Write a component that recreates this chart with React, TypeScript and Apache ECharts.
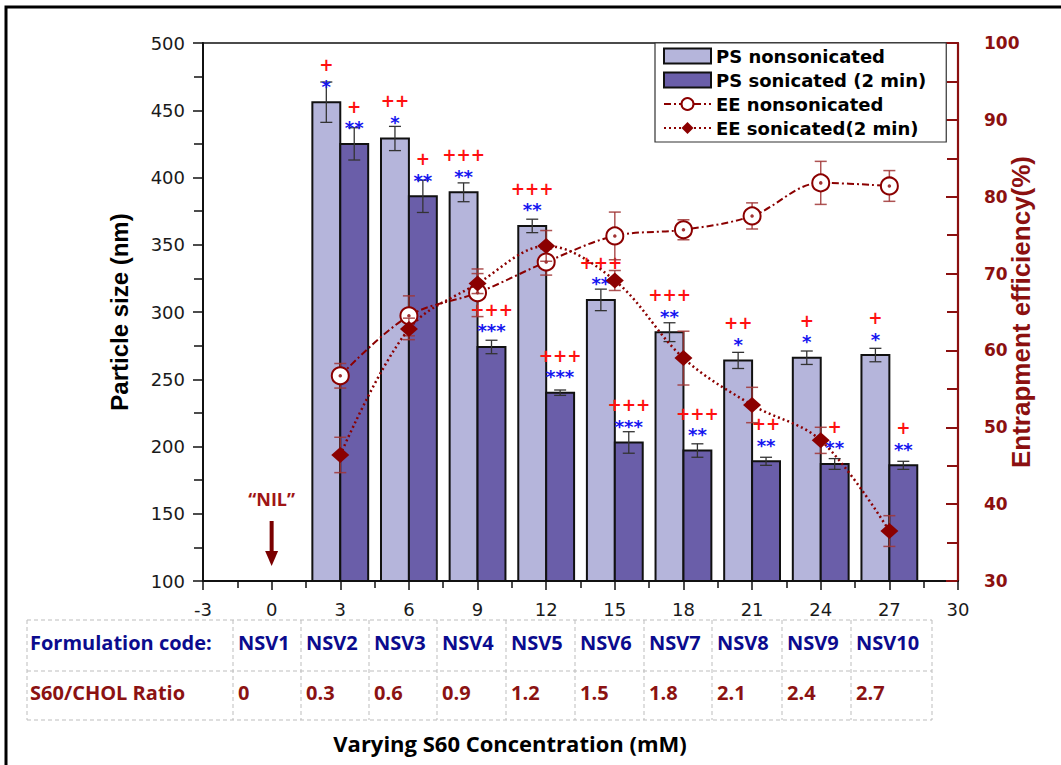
import React, { useEffect, useRef } from "react";
import * as echarts from "echarts";

// S60 concentration (mM) for formulations NSV2..NSV10
const concentration = [3, 6, 9, 12, 15, 18, 21, 24, 27];

// Particle size (nm), mean and SD
const psNonsonicated = [456, 429, 389, 364, 309, 285, 264, 266, 268];
const psNonsonicatedSd = [15, 9, 7, 5, 8, 7, 6, 5, 5];
const psSonicated = [425, 386, 274, 240, 203, 197, 189, 187, 186];
const psSonicatedSd = [12, 12, 5, 2, 8, 5, 3, 4, 3];

// Entrapment efficiency (%), mean and SD
const eeNonsonicated = [56.7, 64.5, 67.5, 71.5, 74.9, 75.7, 77.5, 81.8, 81.4];
const eeNonsonicatedSd = [1.6, 2.6, 3.1, 1.7, 3.1, 1.3, 1.7, 2.8, 2.0];
const eeSonicated = [46.4, 62.8, 68.7, 73.6, 69.1, 59.0, 52.9, 48.3, 36.5];
const eeSonicatedSd = [2.3, 1.4, 1.3, 2.0, 1.3, 3.5, 2.3, 1.7, 2.0];

// Significance marks above the bars
const nonsonicatedStars = ["*", "*", "**", "**", "**", "**", "*", "*", "*"];
const nonsonicatedPlus = ["+", "++", "+++", "+++", "+++", "+++", "++", "+", "+"];
const sonicatedStars = ["**", "**", "***", "***", "***", "**", "**", "**", "**"];
const sonicatedPlus = ["+", "+", "+++", "+++", "+++", "+++", "++", "+", "+"];

// Table under the x axis
const formulationCodes = ["NSV1", "NSV2", "NSV3", "NSV4", "NSV5", "NSV6", "NSV7", "NSV8", "NSV9", "NSV10"];
const cholRatios = ["0", "0.3", "0.6", "0.9", "1.2", "1.5", "1.8", "2.1", "2.4", "2.7"];

const PS_MIN = 100;
const PS_MAX = 500;
const EE_MIN = 30;
const EE_MAX = 100;
const BAR_W = 1.22; // bar width in x-axis units

const DARK_RED = "#8B0000";
const AXIS_RED = "#8B1010";
const LIGHT_BAR = "#B5B5DB";
const DARK_BAR = "#6A5EA9";
const SANS = "DejaVu Sans";
const TABLE_FONT = "Open Sans";

// layout of the table and frame (pixels)
const GRID = { left: 203, top: 43, right: 958, bottom: 581 };
const tableCols = [27, 233, 301, 369, 437, 506, 575, 644, 712, 782, 851, 932];
const tableRowLines = [620, 671, 720];

function barSeries(
  name: string,
  values: number[],
  sds: number[],
  stars: string[],
  pluses: string[],
  color: string,
  o0: number,
  o1: number
) {
  return {
    type: "custom",
    name,
    xAxisIndex: 0,
    yAxisIndex: 0,
    z: 2,
    itemStyle: { color, borderColor: "#111", borderWidth: 1.5 },
    encode: { x: 0, y: 1 },
    data: concentration.map((c, i) => [c, values[i], sds[i]]),
    renderItem: (params: any, api: any) => {
      const i = params.dataIndex;
      const x = api.value(0);
      const v = api.value(1);
      const sd = api.value(2);
      const tl = api.coord([x + o0, v]);
      const br = api.coord([x + o1, PS_MIN]);
      const cx = (tl[0] + br[0]) / 2;
      const yHi = api.coord([x, v + sd])[1];
      const yLo = api.coord([x, v - sd])[1];
      const cap = 6;
      const errStyle = { stroke: "#333", lineWidth: 1.3 };
      return {
        type: "group",
        children: [
          {
            type: "rect",
            shape: { x: tl[0], y: tl[1], width: br[0] - tl[0], height: br[1] - tl[1] },
            style: { fill: color, stroke: "#111", lineWidth: 2 },
          },
          { type: "line", shape: { x1: cx, y1: yHi, x2: cx, y2: yLo }, style: errStyle },
          { type: "line", shape: { x1: cx - cap, y1: yHi, x2: cx + cap, y2: yHi }, style: errStyle },
          { type: "line", shape: { x1: cx - cap, y1: yLo, x2: cx + cap, y2: yLo }, style: errStyle },
          {
            type: "text",
            x: cx,
            y: tl[1] - 16,
            z2: 10,
            style: {
              text: stars[i],
              fill: "#1515F0",
              fontFamily: SANS,
              fontWeight: "bold",
              fontSize: 18,
              align: "center",
              verticalAlign: "middle",
            },
          },
          {
            type: "text",
            x: cx,
            y: tl[1] - 37,
            z2: 10,
            style: {
              text: pluses[i],
              fill: "#FF1010",
              fontFamily: SANS,
              fontWeight: "bold",
              fontSize: 17,
              align: "center",
              verticalAlign: "middle",
            },
          },
        ],
      };
    },
  };
}

function errorSeries(name: string, values: number[], sds: number[], z: number) {
  return {
    type: "custom",
    name,
    xAxisIndex: 0,
    yAxisIndex: 1,
    z,
    silent: true,
    encode: { x: 0, y: 1 },
    data: concentration.map((c, i) => [c, values[i], sds[i]]),
    renderItem: (params: any, api: any) => {
      const x = api.value(0);
      const v = api.value(1);
      const sd = api.value(2);
      const hi = api.coord([x, v + sd]);
      const lo = api.coord([x, v - sd]);
      const cap = 6;
      const st = { stroke: "#A03535", lineWidth: 1.5, opacity: 0.85 };
      return {
        type: "group",
        children: [
          { type: "line", shape: { x1: hi[0], y1: hi[1], x2: lo[0], y2: lo[1] }, style: st },
          { type: "line", shape: { x1: hi[0] - cap, y1: hi[1], x2: hi[0] + cap, y2: hi[1] }, style: st },
          { type: "line", shape: { x1: lo[0] - cap, y1: lo[1], x2: lo[0] + cap, y2: lo[1] }, style: st },
        ],
      };
    },
  };
}

function tableGraphics() {
  const els: any[] = [];
  const dash = { stroke: "#BDBDBD", lineWidth: 1, lineDash: [4, 3] };
  tableRowLines.forEach((y) =>
    els.push({
      type: "line",
      shape: { x1: tableCols[0], y1: y, x2: tableCols[tableCols.length - 1], y2: y },
      style: dash,
    })
  );
  tableCols.forEach((x) =>
    els.push({
      type: "line",
      shape: { x1: x, y1: tableRowLines[0], x2: x, y2: tableRowLines[2] },
      style: dash,
    })
  );
  const rowY = [642, 692];
  const blue = "#0B0B8E";
  const red = "#8B1212";
  const font = { fontFamily: TABLE_FONT, fontWeight: "bold", fontSize: 20, verticalAlign: "middle", align: "left" };
  els.push({ type: "text", x: 30, y: rowY[0], style: { text: "Formulation code:", fill: blue, ...font } });
  els.push({ type: "text", x: 30, y: rowY[1], style: { text: "S60/CHOL Ratio", fill: red, ...font } });
  formulationCodes.forEach((code, i) => {
    els.push({ type: "text", x: tableCols[i + 1] + 5, y: rowY[0], style: { text: code, fill: blue, ...font } });
    els.push({ type: "text", x: tableCols[i + 1] + 5, y: rowY[1], style: { text: cholRatios[i], fill: red, ...font } });
  });
  return els;
}

export default function App() {
  const ref = useRef<HTMLDivElement>(null);

  useEffect(() => {
    document.body.style.margin = "0";
    if (!ref.current) return;
    const chart = echarts.init(ref.current, null, { renderer: "svg" });

    const zeroX = GRID.left + ((0 - -3) / 33) * (GRID.right - GRID.left);

    const option: any = {
      animation: false,
      backgroundColor: "#fff",
      grid: {
        left: GRID.left,
        top: GRID.top,
        right: 1061 - GRID.right,
        bottom: 765 - GRID.bottom,
        show: true,
        borderColor: "#111",
        borderWidth: 1.5,
        backgroundColor: "transparent",
        containLabel: false,
        outerBoundsMode: "none",
      },
      legend: {
        orient: "vertical",
        left: 655,
        top: 43,
        itemWidth: 47,
        itemHeight: 15,
        itemGap: 6,
        padding: [4, 20, 5, 8],
        borderColor: "#333",
        borderWidth: 1.2,
        backgroundColor: "#fff",
        textStyle: { fontFamily: SANS, fontWeight: "bold", fontSize: 18, color: "#000" },
        data: [
          { name: "PS nonsonicated", icon: "rect" },
          { name: "PS sonicated (2 min)", icon: "rect" },
          { name: "EE nonsonicated" },
          { name: "EE sonicated(2 min)" },
        ],
      },
      xAxis: {
        type: "value",
        min: -3,
        max: 30,
        interval: 3,
        axisLine: { onZero: false, lineStyle: { color: "#111", width: 2 } },
        axisTick: { length: 9, lineStyle: { color: "#111", width: 1.5 } },
        minorTick: { show: true, splitNumber: 2, length: 7, lineStyle: { color: "#111", width: 1.5 } },
        splitLine: { show: false },
        axisLabel: { margin: 19, fontFamily: SANS, fontSize: 18, color: "#1a1a1a" },
      },
      yAxis: [
        {
          type: "value",
          min: PS_MIN,
          max: PS_MAX,
          interval: 50,
          position: "left",
          name: "Particle size (nm)",
          nameLocation: "middle",
          nameGap: 72,
          nameMoveOverlap: false,
          nameTextStyle: { fontFamily: "Liberation Sans", fontWeight: "bold", fontSize: 24, color: "#000" },
          axisLine: { show: true, onZero: false, lineStyle: { color: "#111", width: 2 } },
          axisTick: { length: 10, lineStyle: { color: "#111", width: 1.5 } },
          minorTick: { show: true, splitNumber: 2, length: 9, lineStyle: { color: "#111", width: 1.5 } },
          splitLine: { show: false },
          axisLabel: { margin: 18, fontFamily: SANS, fontSize: 18, color: "#1a1a1a" },
        },
        {
          type: "value",
          min: EE_MIN,
          max: EE_MAX,
          interval: 10,
          position: "right",
          name: "Entrapment efficiency(%)",
          nameLocation: "middle",
          nameGap: 50,
          nameRotate: 90,
          nameMoveOverlap: false,
          nameTextStyle: { fontFamily: "Liberation Sans", fontWeight: "bold", fontSize: 26, color: AXIS_RED },
          axisLine: { show: true, onZero: false, lineStyle: { color: AXIS_RED, width: 2.2 } },
          axisTick: { inside: true, length: 12, lineStyle: { color: AXIS_RED, width: 2 } },
          minorTick: { show: true, splitNumber: 2, length: 11, lineStyle: { color: AXIS_RED, width: 2 } },
          splitLine: { show: false },
          axisLabel: { margin: 26, fontFamily: SANS, fontWeight: "bold", fontSize: 17, color: AXIS_RED },
        },
      ],
      series: [
        barSeries("PS nonsonicated", psNonsonicated, psNonsonicatedSd, nonsonicatedStars, nonsonicatedPlus, LIGHT_BAR, -BAR_W, 0),
        barSeries("PS sonicated (2 min)", psSonicated, psSonicatedSd, sonicatedStars, sonicatedPlus, DARK_BAR, 0, BAR_W),
        errorSeries("EE nonsonicated SD", eeNonsonicated, eeNonsonicatedSd, 3),
        {
          type: "line",
          name: "EE nonsonicated",
          yAxisIndex: 1,
          z: 4,
          smooth: 0.35,
          data: concentration.map((c, i) => [c, eeNonsonicated[i]]),
          symbol: "emptyCircle",
          symbolSize: 17,
          itemStyle: { color: DARK_RED, borderWidth: 2.5 },
          lineStyle: { color: DARK_RED, width: 2, type: [7, 3, 2, 3] },
        },
        {
          type: "scatter",
          name: "EE nonsonicated centre",
          yAxisIndex: 1,
          z: 5,
          silent: true,
          symbol: "circle",
          symbolSize: 3.5,
          itemStyle: { color: DARK_RED },
          data: concentration.map((c, i) => [c, eeNonsonicated[i]]),
        },
        errorSeries("EE sonicated SD", eeSonicated, eeSonicatedSd, 6),
        {
          type: "line",
          name: "EE sonicated(2 min)",
          yAxisIndex: 1,
          z: 7,
          smooth: 0.35,
          data: concentration.map((c, i) => [c, eeSonicated[i]]),
          symbol: "diamond",
          symbolSize: [18, 16],
          itemStyle: { color: DARK_RED },
          lineStyle: { color: DARK_RED, width: 2.5, type: [2, 3] },
        },
      ],
      graphic: [
        {
          type: "rect",
          silent: true,
          shape: { x: 6, y: 7, width: 1100, height: 800 },
          style: { fill: "none", stroke: "#000", lineWidth: 3 },
        },
        {
          type: "text",
          x: zeroX,
          y: 499,
          style: {
            text: "\u201CNIL\u201D",
            fill: "#A01515",
            fontFamily: TABLE_FONT,
            fontWeight: "bold",
            fontSize: 18,
            align: "center",
            verticalAlign: "middle",
          },
        },
        {
          type: "line",
          shape: { x1: zeroX, y1: 521, x2: zeroX, y2: 554 },
          style: { stroke: "#7A0000", lineWidth: 4 },
        },
        {
          type: "polygon",
          shape: { points: [[zeroX - 6.5, 551], [zeroX + 6.5, 551], [zeroX, 566]] },
          style: { fill: "#7A0000" },
        },
        {
          type: "text",
          x: 510,
          y: 743,
          style: {
            text: "Varying S60 Concentration (mM)",
            fill: "#000",
            fontFamily: TABLE_FONT,
            fontWeight: "bold",
            fontSize: 22,
            align: "center",
            verticalAlign: "middle",
          },
        },
        ...tableGraphics(),
      ],
    };

    chart.setOption(option);
    return () => chart.dispose();
  }, []);

  return <div ref={ref} style={{ width: 1061, height: 765 }} />;
}
